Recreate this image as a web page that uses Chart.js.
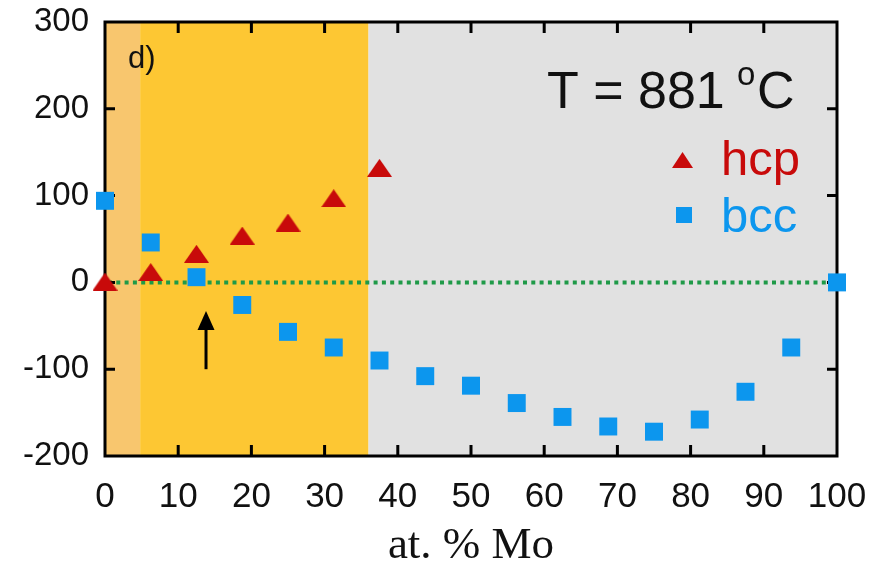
<!DOCTYPE html>
<html><head><meta charset="utf-8">
<script src="https://cdn.jsdelivr.net/npm/chart.js@4"></script>
<style>html,body{margin:0;padding:0;background:#fff;}#wrap{width:883px;height:569px;}</style>
</head><body><div id="wrap"><canvas id="c" width="883" height="569"></canvas></div>
<script>
// ---- data ----
const hcpX = [0, 6.25, 12.5, 18.75, 25, 31.25, 37.5];
const hcpY = [1, 12, 33, 54, 69, 97, 132];
const bccX = [0, 6.25, 12.5, 18.75, 25, 31.25, 37.5, 43.75, 50, 56.25, 62.5, 68.75, 75, 81.25, 87.5, 93.75, 100];
const bccY = [94, 46, 6, -26, -57, -75, -90, -108, -119, -139, -155, -166, -172, -158, -126, -75, 0];
const xTicks = [0, 10, 20, 30, 40, 50, 60, 70, 80, 90, 100];
const yTicks = [-200, -100, 0, 100, 200, 300];
const regionBounds = [0, 4.8, 36, 100];
const regionColors = ['#F8C66E', '#FDC733', '#E1E1E1'];
const arrowX = 13.8, arrowFrom = -100, arrowTo = -33;
const seriesNames = ['hcp', 'bcc'];
const tempLabel = ['T = 881 ', 'o', 'C'];
const panelLabel = 'd)';

const RED = '#C80A0A', BLUE = '#0C96EE', GREEN = '#1F9A48';

function triCanvas(w, h, color) {
  const c = document.createElement('canvas');
  c.width = w; c.height = h;
  const g = c.getContext('2d');
  g.fillStyle = color;
  g.beginPath(); g.moveTo(w / 2, 0); g.lineTo(w, h); g.lineTo(0, h); g.closePath(); g.fill();
  return c;
}
const triPoint = triCanvas(25, 18, RED);
const triLegend = triCanvas(21, 16, RED);

const deco = {
  id: 'deco',
  beforeDatasetsDraw(chart) {
    const { ctx, chartArea: a, scales: { x, y } } = chart;
    ctx.save();
    for (let i = 0; i < regionColors.length; i++) {
      const x0 = x.getPixelForValue(regionBounds[i]), x1 = x.getPixelForValue(regionBounds[i + 1]);
      ctx.fillStyle = regionColors[i];
      ctx.fillRect(x0, a.top, x1 - x0, a.bottom - a.top);
    }
    // zero line
    const y0 = y.getPixelForValue(0);
    ctx.strokeStyle = GREEN; ctx.lineWidth = 4; ctx.setLineDash([4, 4.3]);
    ctx.beginPath(); ctx.moveTo(a.left + 3, y0); ctx.lineTo(a.right, y0); ctx.stroke();
    ctx.setLineDash([]);
    // frame
    ctx.strokeStyle = '#000'; ctx.lineWidth = 3;
    ctx.strokeRect(a.left, a.top, a.right - a.left, a.bottom - a.top);
    // ticks
    ctx.lineWidth = 3;
    ctx.beginPath();
    xTicks.forEach(v => {
      if (v === xTicks[0] || v === xTicks[xTicks.length - 1]) return;
      const px = x.getPixelForValue(v);
      ctx.moveTo(px, a.bottom); ctx.lineTo(px, a.bottom - 11);
      ctx.moveTo(px, a.top); ctx.lineTo(px, a.top + 11);
    });
    yTicks.forEach(v => {
      if (v === yTicks[0] || v === yTicks[yTicks.length - 1]) return;
      const py = y.getPixelForValue(v);
      ctx.moveTo(a.left, py); ctx.lineTo(a.left + 10, py);
      ctx.moveTo(a.right, py); ctx.lineTo(a.right - 10, py);
    });
    ctx.stroke();
    // arrow
    const ax = x.getPixelForValue(arrowX), ay0 = y.getPixelForValue(arrowFrom), ay1 = y.getPixelForValue(arrowTo);
    ctx.fillStyle = '#000';
    ctx.beginPath(); ctx.moveTo(ax, ay0); ctx.lineTo(ax, ay1 + 12); ctx.stroke();
    ctx.beginPath(); ctx.moveTo(ax, ay1); ctx.lineTo(ax + 8.5, ay1 + 19); ctx.lineTo(ax - 8.5, ay1 + 19); ctx.closePath(); ctx.fill();
    ctx.restore();
  },
  afterDatasetsDraw(chart) {
    const { ctx } = chart;
    ctx.save();
    ctx.textBaseline = 'alphabetic'; ctx.textAlign = 'left';
    ctx.fillStyle = '#111';
    ctx.font = '31px "Liberation Sans"';
    ctx.fillText(panelLabel, 128, 68);
    ctx.font = '52px "Liberation Sans"';
    ctx.fillText(tempLabel[0], 547, 108);
    ctx.font = '33px "Liberation Sans"';
    ctx.fillText(tempLabel[1], 737, 85);
    ctx.font = '52px "Liberation Sans"';
    ctx.fillText(tempLabel[2], 757, 108);
    // legend
    ctx.font = '49px "Liberation Sans"';
    ctx.drawImage(triLegend, 672, 152);
    ctx.fillStyle = RED; ctx.fillText(seriesNames[0], 721, 175);
    ctx.fillStyle = BLUE; ctx.fillRect(676, 207, 16, 16);
    ctx.fillText(seriesNames[1], 721, 232);
    ctx.restore();
  }
};

new Chart(document.getElementById('c'), {
  type: 'scatter',
  data: {
    datasets: [
      { label: seriesNames[0], data: hcpX.map((v, i) => ({ x: v, y: hcpY[i] })), pointStyle: triPoint, pointRadius: 12, backgroundColor: RED, borderWidth: 0, clip: false },
      { label: seriesNames[1], data: bccX.map((v, i) => ({ x: v, y: bccY[i] })), pointStyle: 'rect', pointRadius: 12.7, backgroundColor: BLUE, borderColor: BLUE, borderWidth: 0, clip: false }
    ]
  },
  options: {
    responsive: false, animation: false, devicePixelRatio: 1,
    layout: { padding: { top: 22, right: 46, left: 0, bottom: 0 } },
    plugins: { legend: { display: false }, tooltip: { enabled: false } },
    scales: {
      x: {
        type: 'linear', min: 0, max: 100,
        afterBuildTicks: s => { s.ticks = xTicks.map(v => ({ value: v })); },
        grid: { display: false, drawTicks: false }, border: { display: false },
        ticks: { font: { family: 'Liberation Sans', size: 35 }, color: '#111', padding: 20, maxRotation: 0, autoSkip: false },
        title: { display: true, text: 'at. % Mo', font: { family: 'Liberation Serif', size: 45, lineHeight: 1 }, color: '#111', padding: 0 },
        afterFit: s => { s.height = 113; s.paddingLeft = 0; s.paddingRight = 0; }
      },
      y: {
        type: 'linear', min: -200, max: 300,
        afterBuildTicks: s => { s.ticks = yTicks.map(v => ({ value: v })); },
        grid: { display: false, drawTicks: false }, border: { display: false },
        ticks: { font: { family: 'Liberation Sans', size: 33 }, color: '#111', padding: 16, autoSkip: false },
        afterFit: s => { s.width = 105; s.paddingTop = 0; s.paddingBottom = 0; }
      }
    }
  },
  plugins: [deco]
});
</script></body></html>
